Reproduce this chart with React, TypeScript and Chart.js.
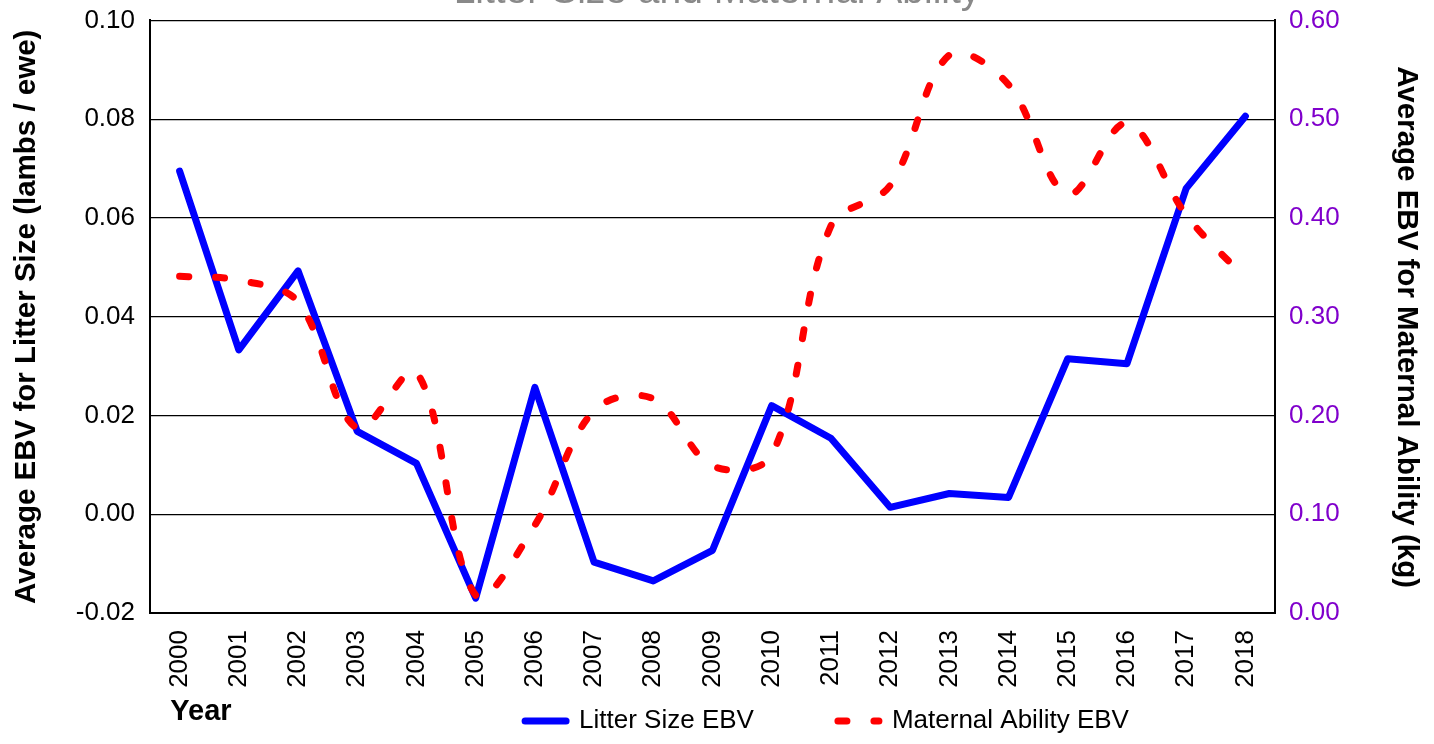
import React, { useEffect, useRef } from "react";
import { Chart, registerables } from "chart.js";

Chart.register(...registerables);

const years = ["2000","2001","2002","2003","2004","2005","2006","2007","2008","2009","2010","2011","2012","2013","2014","2015","2016","2017","2018"];
const litterSizeEBV = [0.0695, 0.0333, 0.0493, 0.0168, 0.0103, -0.017, 0.0257, -0.0097, -0.0135, -0.0073, 0.022, 0.0154, 0.0014, 0.0042, 0.0034, 0.0315, 0.0305, 0.066, 0.0806];
const maternalAbilityEBV = [0.341, 0.337, 0.315, 0.187, 0.244, 0.018, 0.089, 0.205, 0.217, 0.149, 0.16, 0.392, 0.433, 0.565, 0.535, 0.424, 0.496, 0.403, 0.339];
const leftTicks = { min: -0.02, max: 0.1, step: 0.02 };
const rightTicks = { min: 0, max: 0.6, step: 0.1 };

const FONT = "'Liberation Sans', Arial, sans-serif";
const PURPLE = "#8000cc";

export default function App() {
  const ref = useRef<HTMLCanvasElement | null>(null);
  useEffect(() => {
    if (!ref.current) return;
    Chart.defaults.font.family = FONT;
    const legendShift = {
      id: "legendShift",
      afterLayout(chart: any) {
        const lg = chart.legend;
        if (lg) {
          lg.left += 110;
          lg.right += 110;
          lg.top -= 66;
          lg.bottom -= 66;
        }
      },
    };
    const chart = new Chart(ref.current, {
      type: "line",
      data: {
        labels: years,
        datasets: [
          {
            label: "Litter Size EBV",
            data: litterSizeEBV,
            yAxisID: "y",
            borderColor: "#0000ff",
            backgroundColor: "#0000ff",
            borderWidth: 7,
            pointRadius: 0,
            tension: 0,
            borderCapStyle: "round",
            borderJoinStyle: "round",
            order: 1,
          },
          {
            label: "Maternal Ability EBV",
            data: maternalAbilityEBV,
            yAxisID: "y1",
            borderColor: "#ff0000",
            backgroundColor: "#ff0000",
            borderWidth: 7,
            borderDash: [9, 27],
            pointRadius: 0,
            tension: 0.35,
            borderCapStyle: "round",
            borderJoinStyle: "round",
            order: 0,
          },
        ],
      },
      options: {
        animation: false,
        responsive: true,
        maintainAspectRatio: false,
        layout: { padding: { top: 0, left: 0, right: 0, bottom: -66 } },
        plugins: {
          title: {
            display: true,
            text: "Litter Size and Maternal Ability",
            color: "#898989",
            font: { size: 39, weight: "normal" },
            padding: { top: -31, bottom: 4.7 },
          },
          tooltip: { enabled: false },
          legend: {
            position: "bottom",
            labels: {
              color: "#000",
              font: { size: 26 },
              usePointStyle: true,
              pointStyleWidth: 41,
              padding: 84,
              generateLabels: () => [
                {
                  text: "Litter Size EBV",
                  fillStyle: "#0000ff",
                  strokeStyle: "#0000ff",
                  lineWidth: 7,
                  lineCap: "round",
                  lineDash: [],
                  pointStyle: "line",
                  hidden: false,
                  datasetIndex: 0,
                  fontColor: "#000",
                } as any,
                {
                  text: "Maternal Ability EBV",
                  fillStyle: "#ff0000",
                  strokeStyle: "#ff0000",
                  lineWidth: 7,
                  lineCap: "round",
                  lineDash: [9, 27],
                  pointStyle: "line",
                  hidden: false,
                  datasetIndex: 1,
                  fontColor: "#000",
                } as any,
              ],
            },
          },
        },
        scales: {
          x: {
            type: "category",
            offset: true,
            grid: { display: false, drawTicks: false },
            border: { display: true, color: "#000", width: 2 },
            ticks: {
              color: "#000",
              font: { size: 26 },
              minRotation: 90,
              maxRotation: 90,
              autoSkip: false,
              padding: 17,
            },
            title: {
              display: true,
              text: "\u2002\u2009Year",
              align: "start",
              color: "#000",
              font: { size: 29, weight: "bold" },
              padding: { top: 0, bottom: -39.4 },
            },
            afterFit: (s: any) => {
              s.height = 77;
            },
          },
          y: {
            type: "linear",
            position: "left",
            min: leftTicks.min,
            max: leftTicks.max,
            grid: { color: "#000", lineWidth: 1.2, tickLength: 15, tickColor: "rgba(0,0,0,0)", drawTicks: true },
            border: { display: true, color: "#000", width: 2 },
            ticks: {
              stepSize: leftTicks.step,
              color: "#000",
              font: { size: 26 },
              padding: 0,
              callback: (v: any) => Number(v).toFixed(2),
            },
            title: {
              display: true,
              text: "Average EBV for Litter Size (lambs / ewe)",
              color: "#000",
              font: { size: 29.5, weight: "bold" },
              padding: { top: 9, bottom: 0 },
            },
            afterFit: (s: any) => {
              s.width = 150;
            },
          },
          y1: {
            type: "linear",
            position: "right",
            min: rightTicks.min,
            max: rightTicks.max,
            grid: { drawOnChartArea: false, color: "#000", tickLength: 14, tickColor: "rgba(0,0,0,0)", drawTicks: true },
            border: { display: true, color: "#000", width: 2 },
            ticks: {
              stepSize: rightTicks.step,
              color: PURPLE,
              font: { size: 26 },
              padding: 0,
              callback: (v: any) => Number(v).toFixed(2),
            },
            title: {
              display: true,
              text: "\u2002\u2009Average EBV for Maternal Ability (kg)",
              color: "#000",
              font: { size: 29.5, weight: "bold" },
              padding: { top: 10, bottom: 0 },
            },
            afterFit: (s: any) => {
              s.width = 159;
            },
          },
        },
      },
      plugins: [legendShift],
    } as any);
    return () => chart.destroy();
  }, []);
  return (
    <div style={{ position: "fixed", left: 0, top: 0, width: 1434, height: 744, background: "#fff" }}>
      <canvas ref={ref} />
    </div>
  );
}
